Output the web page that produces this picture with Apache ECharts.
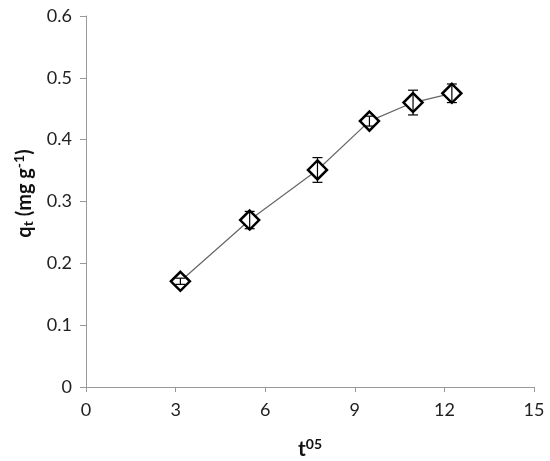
<!DOCTYPE html>
<html>
<head>
<meta charset="utf-8">
<script src="https://cdn.jsdelivr.net/npm/echarts@6/dist/echarts.min.js"></script>
<style>
  html, body { margin: 0; padding: 0; background: #fff; }
  #main { width: 550px; height: 461px; }
</style>
</head>
<body>
<div id="main"></div>
<script>
// t^0.5 values and uptake q_t (mg g-1), with error bar half-widths
var tSqrt = [3.16, 5.48, 7.75, 9.49, 10.95, 12.25];
var qt = [0.171, 0.270, 0.351, 0.430, 0.460, 0.475];
var qtErr = [0.005, 0.014, 0.020, 0.008, 0.020, 0.015];
var xTicks = [0, 3, 6, 9, 12, 15];
var yTicks = [0, 0.1, 0.2, 0.3, 0.4, 0.5, 0.6];

var points = tSqrt.map(function (x, i) { return [x, qt[i]]; });
var bars = tSqrt.map(function (x, i) { return [x, qt[i] - qtErr[i], qt[i] + qtErr[i]]; });

var myChart = echarts.init(document.getElementById('main'));
var font = 'Lato';
var option = {
  animation: false,
  grid: { left: 86, right: 16, top: 16, bottom: 74, outerBoundsMode: 'none', containLabel: false },
  xAxis: {
    type: 'value',
    min: xTicks[0],
    max: xTicks[xTicks.length - 1],
    interval: 3,
    splitLine: { show: false },
    axisLine: { lineStyle: { color: '#999', width: 1 } },
    axisTick: { show: true, length: 5, lineStyle: { color: '#999' } },
    axisLabel: { color: '#222', fontFamily: font, fontSize: 18, margin: 14 },
    name: '{b|t}{sup|05}',
    nameLocation: 'middle',
    nameGap: 50,
    nameTextStyle: {
      rich: {
        b: { fontFamily: font, fontWeight: 'bold', fontSize: 21, color: '#111', lineHeight: 24 },
        sup: { fontFamily: font, fontWeight: 'bold', fontSize: 14, color: '#111', padding: [0, 0, 10, 0], lineHeight: 24 }
      }
    }
  },
  yAxis: {
    type: 'value',
    min: yTicks[0],
    max: yTicks[yTicks.length - 1],
    interval: 0.1,
    splitLine: { show: false },
    axisLine: { show: true, lineStyle: { color: '#999', width: 1 } },
    axisTick: { show: true, length: 6, lineStyle: { color: '#999' } },
    axisLabel: { color: '#222', fontFamily: font, fontSize: 18, margin: 14 },
    name: '{b|q}{sub|t}{b| (mg g}{sup|-1}{b|)}',
    nameLocation: 'middle',
    nameRotate: 90,
    nameGap: 48,
    nameTextStyle: {
      padding: [0, 0, 0, 16],
      rich: {
        b: { fontFamily: font, fontWeight: 'bold', fontSize: 20, color: '#111', lineHeight: 26 },
        sub: { fontFamily: font, fontWeight: 'bold', fontSize: 14, color: '#111', padding: [9, 0, 0, 0], lineHeight: 26 },
        sup: { fontFamily: font, fontWeight: 'bold', fontSize: 14, color: '#111', padding: [0, 0, 9, 0], lineHeight: 26 }
      }
    }
  },
  series: [
    {
      type: 'line',
      data: points,
      lineStyle: { color: '#666', width: 1.2 },
      symbol: 'diamond',
      symbolSize: 19,
      itemStyle: { color: '#fff', borderColor: '#000', borderWidth: 2.5 },
      z: 2
    },
    {
      type: 'custom',
      data: bars,
      z: 3,
      renderItem: function (params, api) {
        var x = api.value(0);
        var lo = api.coord([x, api.value(1)]);
        var hi = api.coord([x, api.value(2)]);
        var cap = 5;
        var style = { stroke: '#000', lineWidth: 1.2 };
        return {
          type: 'group',
          children: [
            { type: 'line', shape: { x1: lo[0], y1: lo[1], x2: hi[0], y2: hi[1] }, style: style },
            { type: 'line', shape: { x1: lo[0] - cap, y1: lo[1], x2: lo[0] + cap, y2: lo[1] }, style: style },
            { type: 'line', shape: { x1: hi[0] - cap, y1: hi[1], x2: hi[0] + cap, y2: hi[1] }, style: style }
          ]
        };
      }
    }
  ]
};
option && myChart.setOption(option);
</script>
</body>
</html>
